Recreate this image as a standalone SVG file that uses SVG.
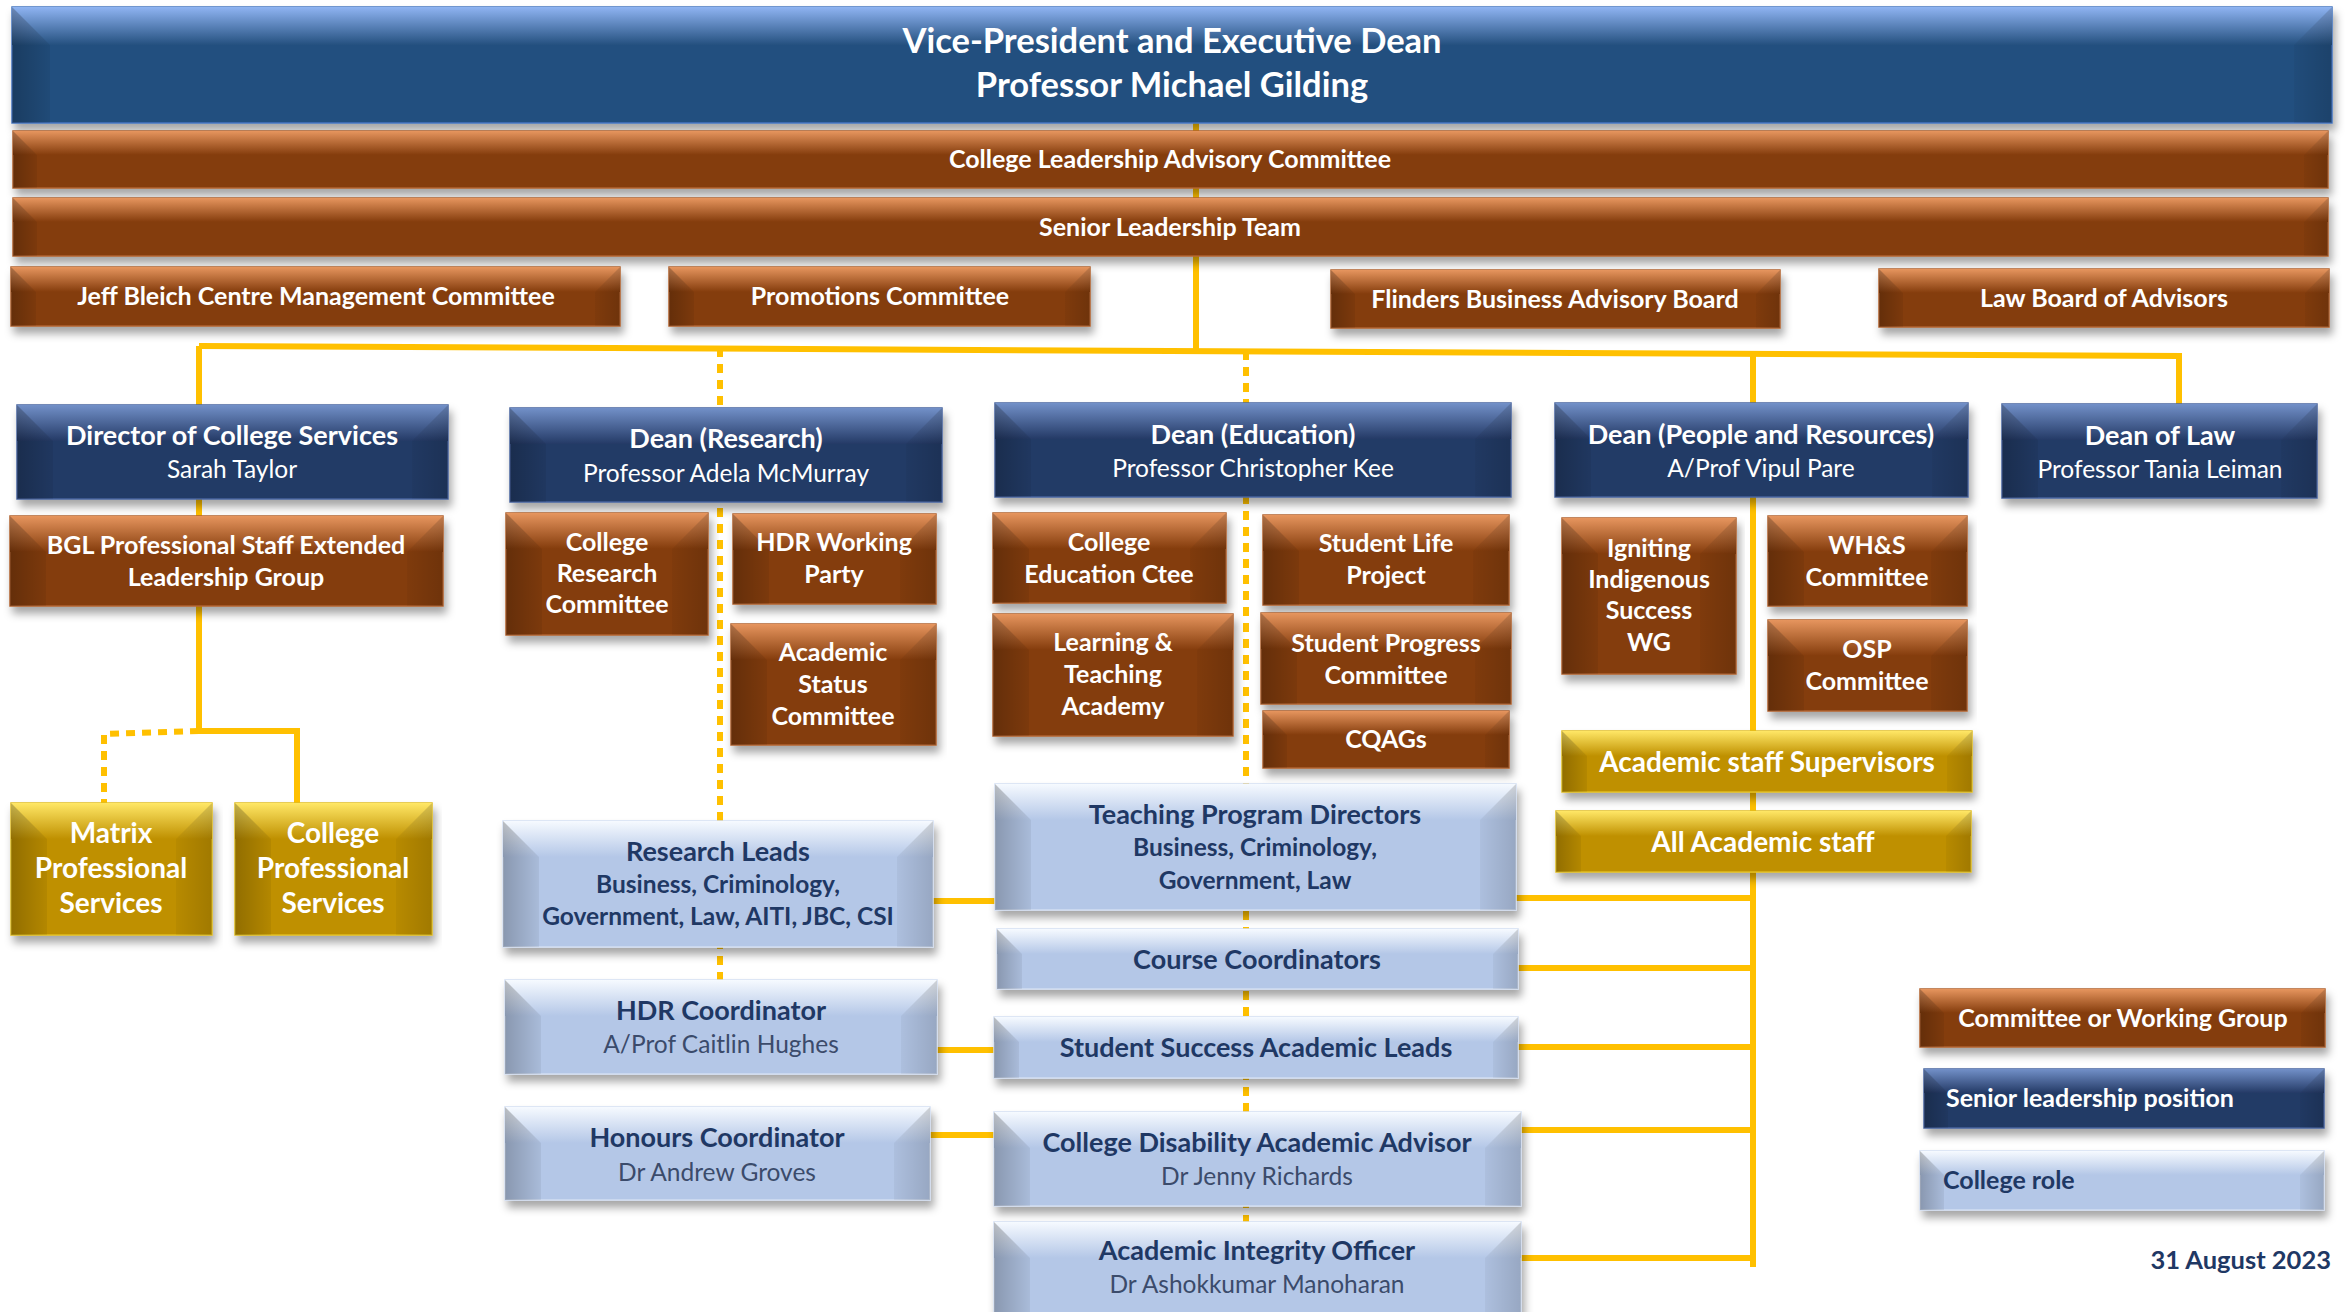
<svg xmlns="http://www.w3.org/2000/svg" width="2346" height="1312" viewBox="0 0 2346 1312">
<style>
text{font-family:Lato,"Liberation Sans",sans-serif;text-anchor:middle}
.b{font-weight:700}
.w{fill:#ffffff}
.k{fill:#1f3864}
.g{fill:#3b4b6b}
.t0{font-size:34.5px}
.t1{font-size:25px}
.t2{font-size:27px}
.t3{font-size:24.5px}
.t4{font-size:28px}
.t5{font-size:27px}
.t6{font-size:24.5px}
.tl{font-size:25px}
.td{font-size:25.5px}
.nv{fill:#243a66;stroke:#47649e;stroke-width:1.5}
.vp{fill:#24507f;stroke:#4575c0;stroke-width:1.5}
.br{fill:#843c0c;stroke:#b0622e;stroke-width:1.5}
.gd{fill:#bf9000;stroke:#e0bc20;stroke-width:1.5}
.lb{fill:#b4c7e7;stroke:#d2def2;stroke-width:1.5}
.wl{fill:url(#wL)}
.wr{fill:url(#wR)}
.c{fill:none;stroke:#ffc000;stroke-width:6}
.d{fill:none;stroke:#ffc000;stroke-width:6;stroke-dasharray:9 7}
</style>
<defs>
<filter id="sh" x="-5%" y="-20%" width="110%" height="160%">
<feDropShadow dx="3" dy="7" stdDeviation="4" flood-color="#000" flood-opacity="0.35"/>
</filter>
<linearGradient id="tNv" x1="0" y1="0" x2="0" y2="1"><stop offset="0" stop-color="#7290c8"/><stop offset="1" stop-color="#243a66"/></linearGradient>
<linearGradient id="tVp" x1="0" y1="0" x2="0" y2="1"><stop offset="0" stop-color="#8fb4f2"/><stop offset="1" stop-color="#24507f"/></linearGradient>
<linearGradient id="tBr" x1="0" y1="0" x2="0" y2="1"><stop offset="0" stop-color="#e6955e"/><stop offset="1" stop-color="#843c0c"/></linearGradient>
<linearGradient id="tGd" x1="0" y1="0" x2="0" y2="1"><stop offset="0" stop-color="#ffe766"/><stop offset="1" stop-color="#bf9000"/></linearGradient>
<linearGradient id="tLb" x1="0" y1="0" x2="0" y2="1"><stop offset="0" stop-color="#f6faff"/><stop offset="1" stop-color="#b4c7e7"/></linearGradient>
<linearGradient id="wL" x1="0" y1="0" x2="1" y2="0"><stop offset="0" stop-color="#000" stop-opacity="0.24"/><stop offset="1" stop-color="#000" stop-opacity="0.06"/></linearGradient>
<linearGradient id="wR" x1="0" y1="0" x2="1" y2="0"><stop offset="0" stop-color="#000" stop-opacity="0.04"/><stop offset="1" stop-color="#000" stop-opacity="0.16"/></linearGradient>
</defs>
<rect width="2346" height="1312" fill="#ffffff"/>

<g id="connectors">
<path class="c" d="M1196,120 V350"/>
<path class="c" d="M199,346 L2179,356 V404"/>
<path class="c" d="M199,346 V731 H297 V803"/>
<path class="c" d="M1753,354 V1267"/>
<path class="c" d="M1516,898 H1753 M1518,968 H1753 M1518,1047 H1753 M1521,1130 H1753 M1521,1258 H1753"/>
<path class="c" d="M933,901 H995 M937,1050 H994 M930,1135 H994"/>
<path class="d" d="M199,731 L104,734 V803"/>
<path class="d" d="M720,348 V980"/>
<path class="d" d="M1246,351 V1222"/>
</g>

<g id="n-vp">
<rect class="vp" x="12" y="7" width="2320" height="116" filter="url(#sh)"/>
<rect x="12" y="7" width="2320" height="38" fill="url(#tVp)"/>
<path class="wl" d="M12,7 l38,38 V123 H12 Z"/><path class="wr" d="M2332,7 l-38,38 V123 H2332 Z"/>
<text class="b w t0" x="1172" y="53">Vice-President and Executive Dean</text>
<text class="b w t0" x="1172" y="97">Professor Michael Gilding</text>
</g>

<g id="n-clac">
<rect class="br" x="13" y="131" width="2315" height="57" filter="url(#sh)"/>
<rect x="13" y="131" width="2315" height="24" fill="url(#tBr)"/>
<path class="wl" d="M13,131 l24,24 V188 H13 Z"/><path class="wr" d="M2328,131 l-24,24 V188 H2328 Z"/>
<text class="b w t1" x="1170" y="168">College Leadership Advisory Committee</text>
</g>

<g id="n-slt">
<rect class="br" x="13" y="198" width="2315" height="58" filter="url(#sh)"/>
<rect x="13" y="198" width="2315" height="24" fill="url(#tBr)"/>
<path class="wl" d="M13,198 l24,24 V256 H13 Z"/><path class="wr" d="M2328,198 l-24,24 V256 H2328 Z"/>
<text class="b w t1" x="1170" y="236">Senior Leadership Team</text>
</g>

<g id="n-jeff">
<rect class="br" x="11" y="267" width="609" height="59" filter="url(#sh)"/>
<rect x="11" y="267" width="609" height="25" fill="url(#tBr)"/>
<path class="wl" d="M11,267 l25,25 V326 H11 Z"/><path class="wr" d="M620,267 l-25,25 V326 H620 Z"/>
<text class="b w t1" x="316" y="305">Jeff Bleich Centre Management Committee</text>
</g>

<g id="n-promo">
<rect class="br" x="669" y="267" width="421" height="59" filter="url(#sh)"/>
<rect x="669" y="267" width="421" height="25" fill="url(#tBr)"/>
<path class="wl" d="M669,267 l25,25 V326 H669 Z"/><path class="wr" d="M1090,267 l-25,25 V326 H1090 Z"/>
<text class="b w t1" x="880" y="305">Promotions Committee</text>
</g>

<g id="n-fbab">
<rect class="br" x="1331" y="270" width="449" height="58" filter="url(#sh)"/>
<rect x="1331" y="270" width="449" height="24" fill="url(#tBr)"/>
<path class="wl" d="M1331,270 l24,24 V328 H1331 Z"/><path class="wr" d="M1780,270 l-24,24 V328 H1780 Z"/>
<text class="b w t1" x="1555" y="308">Flinders Business Advisory Board</text>
</g>

<g id="n-lawboard">
<rect class="br" x="1879" y="269" width="450" height="58" filter="url(#sh)"/>
<rect x="1879" y="269" width="450" height="24" fill="url(#tBr)"/>
<path class="wl" d="M1879,269 l24,24 V327 H1879 Z"/><path class="wr" d="M2329,269 l-24,24 V327 H2329 Z"/>
<text class="b w t1" x="2104" y="307">Law Board of Advisors</text>
</g>

<g id="n-dir">
<rect class="nv" x="17" y="405" width="431" height="94" filter="url(#sh)"/>
<rect x="17" y="405" width="431" height="36" fill="url(#tNv)"/>
<path class="wl" d="M17,405 l36,36 V499 H17 Z"/><path class="wr" d="M448,405 l-36,36 V499 H448 Z"/>
<text class="b w t2" x="232" y="445">Director of College Services</text>
<text class="w t3" x="232" y="478">Sarah Taylor</text>
</g>

<g id="n-deanR">
<rect class="nv" x="510" y="408" width="432" height="94" filter="url(#sh)"/>
<rect x="510" y="408" width="432" height="36" fill="url(#tNv)"/>
<path class="wl" d="M510,408 l36,36 V502 H510 Z"/><path class="wr" d="M942,408 l-36,36 V502 H942 Z"/>
<text class="b w t2" x="726" y="448">Dean (Research)</text>
<text class="w t3" x="726" y="482">Professor Adela McMurray</text>
</g>

<g id="n-deanE">
<rect class="nv" x="995" y="403" width="516" height="94" filter="url(#sh)"/>
<rect x="995" y="403" width="516" height="36" fill="url(#tNv)"/>
<path class="wl" d="M995,403 l36,36 V497 H995 Z"/><path class="wr" d="M1511,403 l-36,36 V497 H1511 Z"/>
<text class="b w t2" x="1253" y="444">Dean (Education)</text>
<text class="w t3" x="1253" y="477">Professor Christopher Kee</text>
</g>

<g id="n-deanPR">
<rect class="nv" x="1555" y="403" width="413" height="94" filter="url(#sh)"/>
<rect x="1555" y="403" width="413" height="36" fill="url(#tNv)"/>
<path class="wl" d="M1555,403 l36,36 V497 H1555 Z"/><path class="wr" d="M1968,403 l-36,36 V497 H1968 Z"/>
<text class="b w t2" x="1761" y="444">Dean (People and Resources)</text>
<text class="w t3" x="1761" y="477">A/Prof Vipul Pare</text>
</g>

<g id="n-deanLaw">
<rect class="nv" x="2002" y="404" width="315" height="94" filter="url(#sh)"/>
<rect x="2002" y="404" width="315" height="36" fill="url(#tNv)"/>
<path class="wl" d="M2002,404 l36,36 V498 H2002 Z"/><path class="wr" d="M2317,404 l-36,36 V498 H2317 Z"/>
<text class="b w t2" x="2160" y="445">Dean of Law</text>
<text class="w t3" x="2160" y="478">Professor Tania Leiman</text>
</g>

<g id="n-bgl">
<rect class="br" x="10" y="516" width="433" height="90" filter="url(#sh)"/>
<rect x="10" y="516" width="433" height="36" fill="url(#tBr)"/>
<path class="wl" d="M10,516 l36,36 V606 H10 Z"/><path class="wr" d="M443,516 l-36,36 V606 H443 Z"/>
<text class="b w t1" x="226" y="554">BGL Professional Staff Extended</text>
<text class="b w t1" x="226" y="586">Leadership Group</text>
</g>

<g id="n-crc">
<rect class="br" x="506" y="513" width="202" height="122" filter="url(#sh)"/>
<rect x="506" y="513" width="202" height="36" fill="url(#tBr)"/>
<path class="wl" d="M506,513 l36,36 V635 H506 Z"/><path class="wr" d="M708,513 l-36,36 V635 H708 Z"/>
<text class="b w t1" x="607" y="551">College</text>
<text class="b w t1" x="607" y="582">Research</text>
<text class="b w t1" x="607" y="613">Committee</text>
</g>

<g id="n-hdrwp">
<rect class="br" x="733" y="514" width="203" height="90" filter="url(#sh)"/>
<rect x="733" y="514" width="203" height="36" fill="url(#tBr)"/>
<path class="wl" d="M733,514 l36,36 V604 H733 Z"/><path class="wr" d="M936,514 l-36,36 V604 H936 Z"/>
<text class="b w t1" x="834" y="551">HDR Working</text>
<text class="b w t1" x="834" y="583">Party</text>
</g>

<g id="n-asc">
<rect class="br" x="731" y="624" width="205" height="121" filter="url(#sh)"/>
<rect x="731" y="624" width="205" height="36" fill="url(#tBr)"/>
<path class="wl" d="M731,624 l36,36 V745 H731 Z"/><path class="wr" d="M936,624 l-36,36 V745 H936 Z"/>
<text class="b w t1" x="833" y="661">Academic</text>
<text class="b w t1" x="833" y="693">Status</text>
<text class="b w t1" x="833" y="725">Committee</text>
</g>

<g id="n-matrix">
<rect class="gd" x="11" y="803" width="201" height="132" filter="url(#sh)"/>
<rect x="11" y="803" width="201" height="36" fill="url(#tGd)"/>
<path class="wl" d="M11,803 l36,36 V935 H11 Z"/><path class="wr" d="M212,803 l-36,36 V935 H212 Z"/>
<text class="b w t4" x="111" y="843">Matrix</text>
<text class="b w t4" x="111" y="878">Professional</text>
<text class="b w t4" x="111" y="913">Services</text>
</g>

<g id="n-cps">
<rect class="gd" x="235" y="803" width="197" height="132" filter="url(#sh)"/>
<rect x="235" y="803" width="197" height="36" fill="url(#tGd)"/>
<path class="wl" d="M235,803 l36,36 V935 H235 Z"/><path class="wr" d="M432,803 l-36,36 V935 H432 Z"/>
<text class="b w t4" x="333" y="843">College</text>
<text class="b w t4" x="333" y="878">Professional</text>
<text class="b w t4" x="333" y="913">Services</text>
</g>

<g id="n-rl">
<rect class="lb" x="503" y="821" width="430" height="126" filter="url(#sh)"/>
<rect x="503" y="821" width="430" height="36" fill="url(#tLb)"/>
<path class="wl" d="M503,821 l36,36 V947 H503 Z"/><path class="wr" d="M933,821 l-36,36 V947 H933 Z"/>
<text class="b k t5" x="718" y="861">Research Leads</text>
<text class="b k t6" x="718" y="893">Business, Criminology,</text>
<text class="b k t6" x="718" y="925">Government, Law, AITI, JBC, CSI</text>
</g>

<g id="n-hdrc">
<rect class="lb" x="505" y="980" width="432" height="94" filter="url(#sh)"/>
<rect x="505" y="980" width="432" height="36" fill="url(#tLb)"/>
<path class="wl" d="M505,980 l36,36 V1074 H505 Z"/><path class="wr" d="M937,980 l-36,36 V1074 H937 Z"/>
<text class="b k t5" x="721" y="1020">HDR Coordinator</text>
<text class="g t3" x="721" y="1053">A/Prof Caitlin Hughes</text>
</g>

<g id="n-honc">
<rect class="lb" x="505" y="1107" width="425" height="93" filter="url(#sh)"/>
<rect x="505" y="1107" width="425" height="36" fill="url(#tLb)"/>
<path class="wl" d="M505,1107 l36,36 V1200 H505 Z"/><path class="wr" d="M930,1107 l-36,36 V1200 H930 Z"/>
<text class="b k t5" x="717" y="1147">Honours Coordinator</text>
<text class="g t3" x="717" y="1181">Dr Andrew Groves</text>
</g>

<g id="n-ced">
<rect class="br" x="993" y="513" width="233" height="90" filter="url(#sh)"/>
<rect x="993" y="513" width="233" height="36" fill="url(#tBr)"/>
<path class="wl" d="M993,513 l36,36 V603 H993 Z"/><path class="wr" d="M1226,513 l-36,36 V603 H1226 Z"/>
<text class="b w t1" x="1109" y="551">College</text>
<text class="b w t1" x="1109" y="583">Education Ctee</text>
</g>

<g id="n-slp">
<rect class="br" x="1263" y="515" width="246" height="90" filter="url(#sh)"/>
<rect x="1263" y="515" width="246" height="36" fill="url(#tBr)"/>
<path class="wl" d="M1263,515 l36,36 V605 H1263 Z"/><path class="wr" d="M1509,515 l-36,36 V605 H1509 Z"/>
<text class="b w t1" x="1386" y="552">Student Life</text>
<text class="b w t1" x="1386" y="584">Project</text>
</g>

<g id="n-lta">
<rect class="br" x="993" y="614" width="240" height="122" filter="url(#sh)"/>
<rect x="993" y="614" width="240" height="36" fill="url(#tBr)"/>
<path class="wl" d="M993,614 l36,36 V736 H993 Z"/><path class="wr" d="M1233,614 l-36,36 V736 H1233 Z"/>
<text class="b w t1" x="1113" y="651">Learning &amp;</text>
<text class="b w t1" x="1113" y="683">Teaching</text>
<text class="b w t1" x="1113" y="715">Academy</text>
</g>

<g id="n-spc">
<rect class="br" x="1261" y="613" width="250" height="91" filter="url(#sh)"/>
<rect x="1261" y="613" width="250" height="36" fill="url(#tBr)"/>
<path class="wl" d="M1261,613 l36,36 V704 H1261 Z"/><path class="wr" d="M1511,613 l-36,36 V704 H1511 Z"/>
<text class="b w t1" x="1386" y="652">Student Progress</text>
<text class="b w t1" x="1386" y="684">Committee</text>
</g>

<g id="n-cqags">
<rect class="br" x="1263" y="711" width="246" height="57" filter="url(#sh)"/>
<rect x="1263" y="711" width="246" height="24" fill="url(#tBr)"/>
<path class="wl" d="M1263,711 l24,24 V768 H1263 Z"/><path class="wr" d="M1509,711 l-24,24 V768 H1509 Z"/>
<text class="b w t1" x="1386" y="748">CQAGs</text>
</g>

<g id="n-tpd">
<rect class="lb" x="995" y="784" width="521" height="126" filter="url(#sh)"/>
<rect x="995" y="784" width="521" height="36" fill="url(#tLb)"/>
<path class="wl" d="M995,784 l36,36 V910 H995 Z"/><path class="wr" d="M1516,784 l-36,36 V910 H1516 Z"/>
<text class="b k t5" x="1255" y="824">Teaching Program Directors</text>
<text class="b k t6" x="1255" y="856">Business, Criminology,</text>
<text class="b k t6" x="1255" y="889">Government, Law</text>
</g>

<g id="n-cc">
<rect class="lb" x="997" y="929" width="521" height="60" filter="url(#sh)"/>
<rect x="997" y="929" width="521" height="25" fill="url(#tLb)"/>
<path class="wl" d="M997,929 l25,25 V989 H997 Z"/><path class="wr" d="M1518,929 l-25,25 V989 H1518 Z"/>
<text class="b k t5" x="1257" y="969">Course Coordinators</text>
</g>

<g id="n-ssal">
<rect class="lb" x="994" y="1017" width="524" height="61" filter="url(#sh)"/>
<rect x="994" y="1017" width="524" height="25" fill="url(#tLb)"/>
<path class="wl" d="M994,1017 l25,25 V1078 H994 Z"/><path class="wr" d="M1518,1017 l-25,25 V1078 H1518 Z"/>
<text class="b k t5" x="1256" y="1057">Student Success Academic Leads</text>
</g>

<g id="n-cdaa">
<rect class="lb" x="994" y="1112" width="527" height="94" filter="url(#sh)"/>
<rect x="994" y="1112" width="527" height="36" fill="url(#tLb)"/>
<path class="wl" d="M994,1112 l36,36 V1206 H994 Z"/><path class="wr" d="M1521,1112 l-36,36 V1206 H1521 Z"/>
<text class="b k t5" x="1257" y="1152">College Disability Academic Advisor</text>
<text class="g t3" x="1257" y="1185">Dr Jenny Richards</text>
</g>

<g id="n-aio">
<rect class="lb" x="994" y="1222" width="527" height="100" filter="url(#sh)"/>
<rect x="994" y="1222" width="527" height="36" fill="url(#tLb)"/>
<path class="wl" d="M994,1222 l36,36 V1322 H994 Z"/><path class="wr" d="M1521,1222 l-36,36 V1322 H1521 Z"/>
<text class="b k t5" x="1257" y="1260">Academic Integrity Officer</text>
<text class="g t3" x="1257" y="1293">Dr Ashokkumar Manoharan</text>
</g>

<g id="n-iisw">
<rect class="br" x="1562" y="518" width="174" height="156" filter="url(#sh)"/>
<rect x="1562" y="518" width="174" height="36" fill="url(#tBr)"/>
<path class="wl" d="M1562,518 l36,36 V674 H1562 Z"/><path class="wr" d="M1736,518 l-36,36 V674 H1736 Z"/>
<text class="b w t1" x="1649" y="557">Igniting</text>
<text class="b w t1" x="1649" y="588">Indigenous</text>
<text class="b w t1" x="1649" y="619">Success</text>
<text class="b w t1" x="1649" y="651">WG</text>
</g>

<g id="n-whs">
<rect class="br" x="1768" y="516" width="199" height="90" filter="url(#sh)"/>
<rect x="1768" y="516" width="199" height="36" fill="url(#tBr)"/>
<path class="wl" d="M1768,516 l36,36 V606 H1768 Z"/><path class="wr" d="M1967,516 l-36,36 V606 H1967 Z"/>
<text class="b w t1" x="1867" y="554">WH&amp;S</text>
<text class="b w t1" x="1867" y="586">Committee</text>
</g>

<g id="n-osp">
<rect class="br" x="1768" y="620" width="199" height="91" filter="url(#sh)"/>
<rect x="1768" y="620" width="199" height="36" fill="url(#tBr)"/>
<path class="wl" d="M1768,620 l36,36 V711 H1768 Z"/><path class="wr" d="M1967,620 l-36,36 V711 H1967 Z"/>
<text class="b w t1" x="1867" y="658">OSP</text>
<text class="b w t1" x="1867" y="690">Committee</text>
</g>

<g id="n-ass">
<rect class="gd" x="1562" y="731" width="410" height="61" filter="url(#sh)"/>
<rect x="1562" y="731" width="410" height="25" fill="url(#tGd)"/>
<path class="wl" d="M1562,731 l25,25 V792 H1562 Z"/><path class="wr" d="M1972,731 l-25,25 V792 H1972 Z"/>
<text class="b w t4" x="1767" y="772">Academic staff Supervisors</text>
</g>

<g id="n-aas">
<rect class="gd" x="1556" y="811" width="415" height="61" filter="url(#sh)"/>
<rect x="1556" y="811" width="415" height="25" fill="url(#tGd)"/>
<path class="wl" d="M1556,811 l25,25 V872 H1556 Z"/><path class="wr" d="M1971,811 l-25,25 V872 H1971 Z"/>
<text class="b w t4" x="1763" y="852">All Academic staff</text>
</g>

<g id="legend">
<g id="lg-committee">
<rect class="br" x="1920" y="989" width="405" height="58" filter="url(#sh)"/>
<rect x="1920" y="989" width="405" height="24" fill="url(#tBr)"/>
<path class="wl" d="M1920,989 l24,24 V1047 H1920 Z"/><path class="wr" d="M2325,989 l-24,24 V1047 H2325 Z"/>
<text class="b w tl" x="2123" y="1027">Committee or Working Group</text>
</g>
<g id="lg-senior">
<rect class="nv" x="1924" y="1069" width="400" height="59" filter="url(#sh)"/>
<rect x="1924" y="1069" width="400" height="24" fill="url(#tNv)"/>
<path class="wl" d="M1924,1069 l24,24 V1128 H1924 Z"/><path class="wr" d="M2324,1069 l-24,24 V1128 H2324 Z"/>
<text class="b w tl" x="1946" y="1107" style="text-anchor:start">Senior leadership position</text>
</g>
<g id="lg-role">
<rect class="lb" x="1920" y="1151" width="404" height="59" filter="url(#sh)"/>
<rect x="1920" y="1151" width="404" height="24" fill="url(#tLb)"/>
<path class="wl" d="M1920,1151 l24,24 V1210 H1920 Z"/><path class="wr" d="M2324,1151 l-24,24 V1210 H2324 Z"/>
<text class="b k tl" x="1943" y="1189" style="text-anchor:start">College role</text>
</g>
</g>

<text class="b k td" x="2331" y="1269" style="text-anchor:end">31 August 2023</text>
</svg>
